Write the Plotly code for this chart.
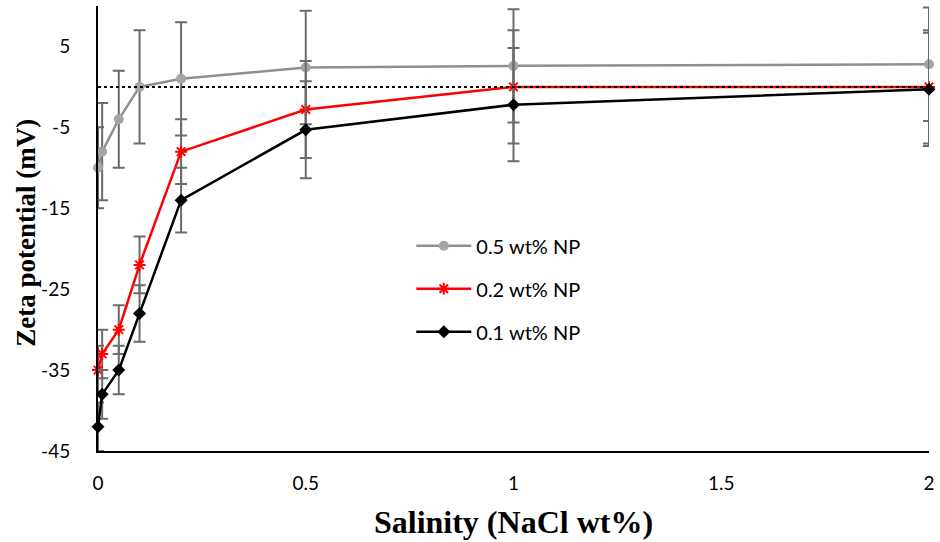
import plotly.graph_objects as go

salinity = [0, 0.01, 0.05, 0.1, 0.2, 0.5, 1, 2]

np05 = [-10, -8, -4, 0, 1, 2.4, 2.6, 2.8]
np05_err = [5, 6, 6, 7, 7, 7, 7, 7]

np02 = [-35, -33, -30, -22, -8, -2.8, 0, 0]
np02_err = [3, 3, 3, 3.5, 4, 6, 7, 7]

np01 = [-42, -38, -35, -28, -14, -5.3, -2.2, -0.3]
np01_err = [3, 3, 3, 3.5, 4, 6, 7, 7]

y_ticks = [-45, -35, -25, -15, -5, 5]
y_tick_text = ["-45", "-35", "-25", "-15", "-5", "5"]
x_ticks = [0, 0.5, 1, 1.5, 2]
x_tick_text = ["0", "0.5", "1", "1.5", "2"]

err_color = "#6b6b6b"

def err(vals):
    return dict(type="data", array=vals, visible=True, color=err_color,
                thickness=2, width=6)

fig = go.Figure()
fig.add_trace(go.Scatter(
    x=salinity, y=np05, name="0.5 wt% NP", mode="lines+markers",
    line=dict(color="#8f8f8f", width=2.5),
    marker=dict(symbol="circle", size=10, color="#a5a5a5"),
    error_y=err(np05_err), legendgroup="a", cliponaxis=False))
fig.add_trace(go.Scatter(
    x=salinity, y=np02, name="0.2 wt% NP", mode="lines+markers",
    line=dict(color="#ff0000", width=2.5),
    marker=dict(symbol="asterisk-open", size=10, color="#ff0000",
                line=dict(color="#ff0000", width=2)),
    error_y=err(np02_err), legendgroup="b", cliponaxis=False))
fig.add_trace(go.Scatter(
    x=salinity, y=np01, name="0.1 wt% NP", mode="lines+markers",
    line=dict(color="#000000", width=2.5),
    marker=dict(symbol="diamond", size=10, color="#000000"),
    error_y=err(np01_err), legendgroup="c", cliponaxis=False))

fig.add_shape(type="line", x0=0, x1=2, y0=0, y1=0, xref="x", yref="y",
              line=dict(color="black", width=2, dash="dot"), layer="above")

tick_font = dict(family="Lato, Open Sans, sans-serif", size=19, color="black")
title_font_family = "Liberation Serif, Times New Roman, serif"

fig.add_annotation(text="<b>Zeta potential (mV)</b>", textangle=-90,
                   xref="paper", yref="paper", x=-0.087, y=0.49,
                   xanchor="center", yanchor="middle", showarrow=False,
                   font=dict(family=title_font_family, size=27, color="black"))

fig.update_layout(
    width=940, height=542,
    margin=dict(l=98, r=8, t=5.5, b=91),
    plot_bgcolor="white", paper_bgcolor="white",
    font=dict(family="Lato, Open Sans, sans-serif", size=19, color="black"),
    showlegend=True,
    legend=dict(x=0.377, y=0.505, xanchor="left", yanchor="top",
                traceorder="grouped", tracegroupgap=14,
                font=dict(family="Lato, Open Sans, sans-serif", size=20, color="black"),
                bgcolor="rgba(0,0,0,0)", itemwidth=55),
    xaxis=dict(range=[0, 2], tickvals=x_ticks, ticktext=x_tick_text,
               showgrid=False, zeroline=False, showline=True,
               linecolor="black", linewidth=2, ticks="",
               tickfont=tick_font, ticklabelstandoff=14,
               title=dict(text="<b>Salinity (NaCl wt%)</b>", standoff=18,
                          font=dict(family=title_font_family,
                                    size=32, color="black"))),
    yaxis=dict(range=[-45, 10], tickvals=y_ticks, ticktext=y_tick_text,
               showgrid=False, zeroline=False, showline=True,
               linecolor="black", linewidth=2, ticks="",
               tickfont=tick_font, ticklabelstandoff=22),
)

fig.write_html("out.html")
